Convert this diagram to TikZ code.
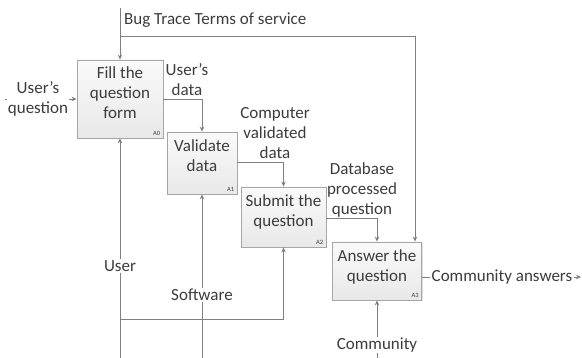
\documentclass[tikz,border=0pt]{standalone}
\usepackage{fontspec}
\setmainfont{Carlito}
\usetikzlibrary{arrows.meta,shadows,calc}
\definecolor{linegray}{HTML}{7F7F7F}
\definecolor{boxedge}{HTML}{A6A6A6}
\definecolor{boxtop}{HTML}{FAFAFA}
\definecolor{boxbot}{HTML}{E8E8E8}
\definecolor{txt}{HTML}{3C3C3C}
\begin{document}
\begin{tikzpicture}[x=1pt,y=-1pt,
  func/.style={draw=boxedge, line width=0.8pt, top color=boxtop, bottom color=boxbot,
    inner sep=0pt, drop shadow={shadow xshift=1.2pt, shadow yshift=-1.2pt, opacity=0.25}},
  ftext/.style={font=\fontsize{17}{20}\selectfont, text=txt, align=center, inner sep=0pt},
  fid/.style={font=\fontsize{6.5}{7}\selectfont, text=txt, inner sep=0pt, anchor=south east},
  flow/.style={draw=linegray, line width=0.9pt, -{Stealth[length=5pt,width=4.5pt]}},
  lbl/.style={font=\fontsize{17}{20}\selectfont, text=txt, align=center, inner sep=1pt, fill=white}
]
\useasboundingbox (0,0) rectangle (582,358);

% activity boxes
\node[func, minimum width=86pt, minimum height=78pt] (a0) at (120,99) {};
\node[func, minimum width=70pt, minimum height=62pt] (a1) at (202,163) {};
\node[func, minimum width=85pt, minimum height=60pt] (a2) at (283.5,217) {};
\node[func, minimum width=89pt, minimum height=58pt] (a3) at (377,271) {};

\node[ftext] (t0) at (120,93) {Fill the\\question\\form};
\node[ftext] (t1) at (202,156) {Validate\\data};
\node[ftext] (t2) at (283.5,212) {Submit the\\question};
\node[ftext] (t3) at (377,267) {Answer the\\question};

\node[fid] (n0) at ($(a0.south east)+(-3,-3)$) {A0};
\node[fid] (n1) at ($(a1.south east)+(-3,-3)$) {A1};
\node[fid] (n2) at ($(a2.south east)+(-3,-3)$) {A2};
\node[fid] (n3) at ($(a3.south east)+(-3,-3)$) {A3};

% free ends of the boundary arrows
\coordinate (ctop) at (120,8);
\coordinate (cbend) at (120,36);
\coordinate (cright) at (415,36);
\coordinate (inl) at (5,99);
\coordinate (outr) at (581,277);
\coordinate (ubot) at (120,358);
\coordinate (ubr) at (120,319);
\coordinate (sbot) at (202,358);
\coordinate (cbot) at (377,358);

% controls
\draw[flow] (ctop) -- (a0.north);
\draw[flow] (cbend) -- (cright) -- (cright |- a3.north);
\node[lbl, anchor=west, fill=none] (ctl) at (123,20) {Bug Trace Terms of service};

% input
\draw[flow] (inl) -- (a0.west);
\node[lbl] (inq) at (38,99) {User’s\\question};

% flows between activities
\draw[flow] (a0.east) -- (a0.east -| a1.north) -- (a1.north);
\node[lbl, fill=none] (d01) at (187,80) {User’s\\data};
\draw[flow] (a1.east |- 0,162) -- (a2.north |- 0,162) -- (a2.north);
\node[lbl, fill=none] (d12) at (275,133) {Computer\\validated\\data};
\draw[flow] (a2.east |- 0,218) -- (a3.north |- 0,218) -- (a3.north);
\node[lbl, fill=none] (d23) at (362,190) {Database\\processed\\question};

% output
\draw[flow] (a3.east |- outr) -- (outr);
\node[lbl, anchor=west, inner xsep=1.5pt] (outl) at (430,277) {Community answers};

% mechanisms
\draw[flow] (ubot) -- (a0.south);
\draw[flow] (ubr) -- (ubr -| a2.south) -- (a2.south);
\node[lbl] (mu) at (120,266) {User};
\draw[flow] (sbot) -- (a1.south);
\node[lbl] (ms) at (202,295) {Software};
\draw[flow] (cbot) -- (a3.south);
\node[lbl] (mc) at (377,345) {Community};
\end{tikzpicture}
\end{document}
